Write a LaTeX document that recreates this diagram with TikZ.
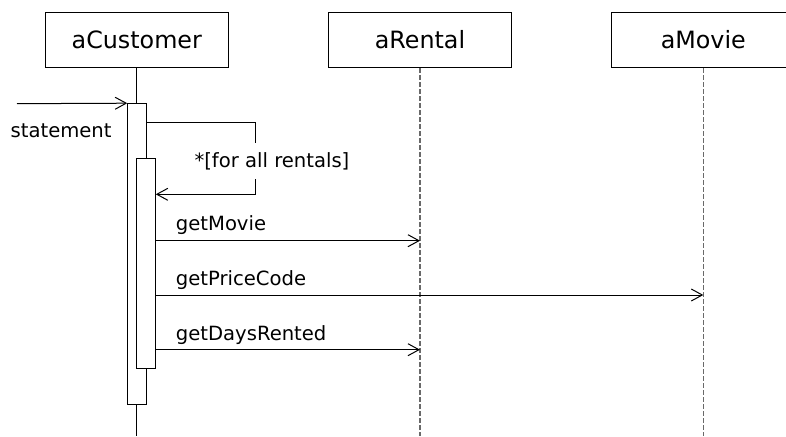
\documentclass[tikz,border=0pt]{standalone}
\usepackage{fontspec}
\setmainfont{DejaVu Sans}
\usetikzlibrary{arrows.meta}
\definecolor{life}{RGB}{105,105,105}
\tikzset{
  objbox/.style={draw=black, line width=1pt, fill=white, minimum width=183pt, minimum height=55.4pt, inner sep=0pt, font=\fontsize{23.8}{28}\selectfont},
  actbox/.style={draw=black, line width=1pt, fill=white, minimum width=18.6pt, inner sep=0pt},
  solidlife/.style={draw=black, line width=1pt},
  dashlife/.style={draw=life, line width=1.1pt, dash pattern=on 4.5pt off 2.5pt},
  msg/.style={draw=black, line width=1pt, -{Straight Barb[length=11pt,width=12pt,line width=1pt]}},
  lbl/.style={inner sep=0pt, anchor=base west, font=\fontsize{19.6}{24}\selectfont},
}
\begin{document}
\begin{tikzpicture}[x=1pt,y=-1pt]
\useasboundingbox (0,0) rectangle (786,436);
% heads
\node[objbox] (cust) at (136.8,40) {aCustomer};
\node[objbox] (rent) at (420,40) {aRental};
\node[objbox] (movie) at (703.3,40) {aMovie};
% lifeline ends
\coordinate (custEnd) at (136.8,436);
\coordinate (rentEnd) at (420,436);
\coordinate (movieEnd) at (703.3,436);
\draw[solidlife] (cust) -- (custEnd);
\draw[dashlife] (rent) -- (rentEnd);
\draw[dashlife] (movie) -- (movieEnd);
% activations
\node[actbox, minimum height=300.6pt] (act1) at (137,254) {};
\node[actbox, minimum height=209.6pt] (act2) at (146,263.5) {};
% incoming
\coordinate (start) at (17,103.7);
\draw[msg] (start) -- (act1.north west);
\node[lbl] (lstat) at (10.5,137.3) {statement};
% self call loop
\coordinate (l1) at (255.7,122.3);
\coordinate (l2) at (255.7,194.3);
\draw[msg] (act1.east |- l1) -- (l1) -- (l2) -- (act2.east |- l2);
\node[lbl, fill=white, inner ysep=9pt] (lloop) at (194.3,167.3) {*[for all rentals]};
% messages
\coordinate (m1) at (0,240.7);
\coordinate (m2) at (0,295);
\coordinate (m3) at (0,349.7);
\draw[msg] (act2.east |- m1) -- (rent.south |- m1);
\draw[msg] (act2.east |- m2) -- (movie.south |- m2);
\draw[msg] (act2.east |- m3) -- (rent.south |- m3);
\node[lbl] (lm1) at (175.7,230.7) {getMovie};
\node[lbl] (lm2) at (175.7,285.7) {getPriceCode};
\node[lbl] (lm3) at (175.7,340) {getDaysRented};
\end{tikzpicture}
\end{document}
